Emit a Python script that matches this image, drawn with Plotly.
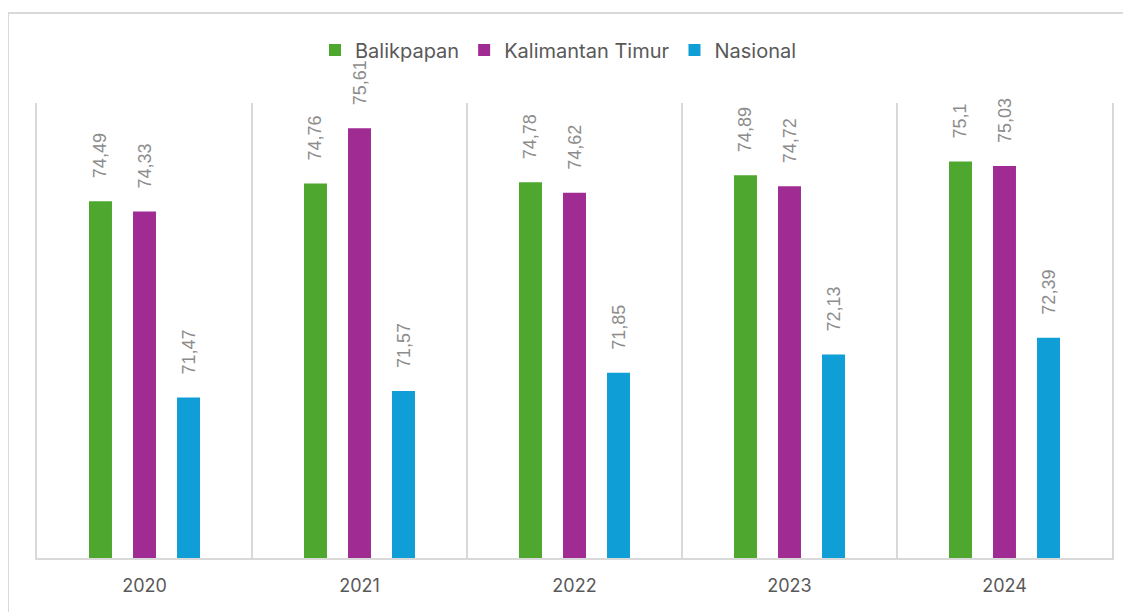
import plotly.graph_objects as go

years = ["2020", "2021", "2022", "2023", "2024"]
balikpapan = [74.49, 74.76, 74.78, 74.89, 75.1]
kaltim = [74.33, 75.61, 74.62, 74.72, 75.03]
nasional = [71.47, 71.57, 71.85, 72.13, 72.39]

series = [
    ("Balikpapan", balikpapan, "#4EA72E"),
    ("Kalimantan Timur", kaltim, "#A02B93"),
    ("Nasional", nasional, "#0F9ED5"),
]

def fmt(v):
    s = ("%.2f" % v).rstrip("0").rstrip(".")
    return "\u00a0\u00a0\u00a0\u00a0" + s.replace(".", ",")

fig = go.Figure()
for name, vals, color in series:
    fig.add_trace(go.Bar(
        x=years, y=vals, name=name,
        marker=dict(color=color, line=dict(width=0)),
        text=[fmt(v) for v in vals],
        textposition="outside",
        textangle=-90,
        constraintext="none",
        textfont=dict(family="Liberation Sans, Arial", size=18, color="#8c8c8c"),
        cliponaxis=False,
        hoverinfo="x+y",
    ))

# page body has an 8px margin; compensate
OFF = 8
W, H = 1131 - OFF, 612 - OFF
L, R, T, B = 37 - OFF, 19, 103 - OFF, 54
pw, ph = W - L - R, H - T - B

fig.update_layout(
    width=W, height=H,
    margin=dict(l=L, r=R, t=T, b=B),
    paper_bgcolor="white", plot_bgcolor="white",
    barmode="group", bargap=0.386, bargroupgap=0.478,
    showlegend=True,
    legend=dict(orientation="h", x=0.5 - 16 / pw, xanchor="center", y=1 + (T - (50 - OFF)) / ph, yanchor="middle",
                font=dict(family="Inter, Open Sans", size=20, color="#595959"),
                bgcolor="rgba(0,0,0,0)",
                itemwidth=30, traceorder="normal"),
    xaxis=dict(type="category", tickson="boundaries", showgrid=True, gridcolor="#d9d9d9", gridwidth=2,
               showline=True, linecolor="#d9d9d9", linewidth=2, ticks="", ticklabelstandoff=10,
               tickfont=dict(family="Inter, Open Sans", size=18, color="#595959")),
    yaxis=dict(range=[69, 76], showticklabels=False, showgrid=False, zeroline=False,
               showline=True, mirror=True, linecolor="#d9d9d9", linewidth=2, ticks=""),
    shapes=[dict(type="rect", xref="paper", yref="paper",
                 x0=(0 - L) / pw, x1=(W + 10 - L) / pw,
                 y0=-(B + 10) / ph, y1=1 + (T - (13 - OFF)) / ph,
                 line=dict(color="#d9d9d9", width=2), layer="below")],
)

fig.write_html("out.html")
